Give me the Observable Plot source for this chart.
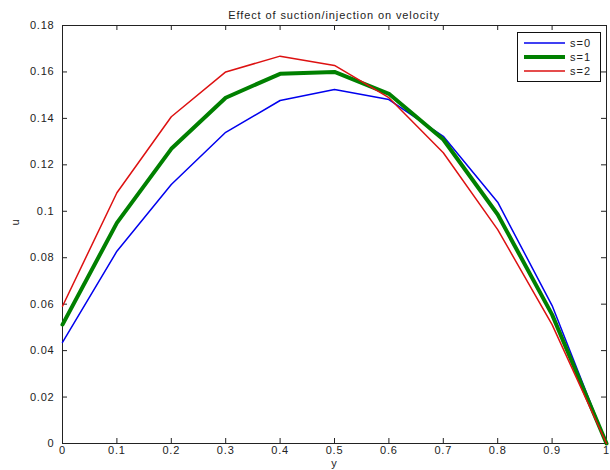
<!DOCTYPE html>
<html>
<head>
<meta charset="utf-8">
<script src="https://cdn.jsdelivr.net/npm/d3@7"></script>
<script src="https://cdn.jsdelivr.net/npm/@observablehq/plot@0.6"></script>
<style>
  body { margin: 0; background: #fff; font-family: "Liberation Sans", Arial, sans-serif; }
  #wrap { position: relative; width: 610px; height: 470px; overflow: hidden; }
  #title { position: absolute; top: 8px; left: 62px; width: 544px; text-align: center; font-size: 11px; line-height: 14px; letter-spacing: 0.9px; color: #222; }
  #legend { position: absolute; left: 517px; top: 32px; width: 84px; height: 50px; box-sizing: border-box; border: 1px solid #111; background: #fff; font-size: 11px; letter-spacing: 1px; color: #222; }
  .row { position: absolute; left: 0; height: 14px; display: flex; align-items: center; }
  .row svg { margin-left: 6px; margin-right: 5px; }
</style>
</head>
<body>
<div id="wrap">
  <div id="chart"></div>
  <div id="title">Effect of suction/injection on velocity</div>
  <div id="legend"></div>
</div>
<script>
const yVals = [0, 0.1, 0.2, 0.3, 0.4, 0.5, 0.6, 0.7, 0.8, 0.9, 1];
const s0 = [0.0435, 0.0828, 0.1115, 0.134, 0.1477, 0.1524, 0.1481, 0.1323, 0.1039, 0.0594, 0];
const s1 = [0.0512, 0.095, 0.1269, 0.1489, 0.1592, 0.160, 0.1506, 0.1309, 0.0986, 0.0555, 0];
const s2 = [0.0591, 0.108, 0.1407, 0.160, 0.1668, 0.1628, 0.1489, 0.1252, 0.0921, 0.0512, 0];
const seriesNames = ["s=0", "s=1", "s=2"];
const seriesColors = ["#0000ee", "#008000", "#dd1111"];
const seriesWidths = [1.5, 4, 1.5];
const xTicks = [0, 0.1, 0.2, 0.3, 0.4, 0.5, 0.6, 0.7, 0.8, 0.9, 1];
const yTicks = [0, 0.02, 0.04, 0.06, 0.08, 0.1, 0.12, 0.14, 0.16, 0.18];

const allSeries = [s0, s1, s2];
const table = (vals) => yVals.map((y, i) => ({y, u: vals[i]}));

const W = 610, H = 470, mT = 25, mB = 27, mL = 62, mR = 4;
const plotH = H - mT - mB, plotW = W - mL - mR;
const tickLen = 5;
const axisColor = "#222";

const chart = Plot.plot({
  width: W, height: H,
  marginTop: mT, marginBottom: mB, marginLeft: mL, marginRight: mR,
  x: {domain: [0, 1]},
  y: {domain: [0, 0.18]},
  style: {fontFamily: '"Liberation Sans", Arial, sans-serif', fontSize: "11px", color: axisColor, background: "#fff", letterSpacing: "0.8px"},
  marks: [
    Plot.frame({stroke: axisColor}),
    Plot.ruleX(xTicks, {x: d => d, insetTop: plotH - tickLen, stroke: axisColor}),
    Plot.ruleX(xTicks, {x: d => d, insetBottom: plotH - tickLen, stroke: axisColor}),
    Plot.ruleY(yTicks, {y: d => d, insetRight: plotW - tickLen, stroke: axisColor}),
    Plot.ruleY(yTicks, {y: d => d, insetLeft: plotW - tickLen, stroke: axisColor}),
    Plot.axisX(xTicks, {tickSize: 0, tickPadding: 3, tickFormat: d => String(d), label: null}),
    Plot.axisY(yTicks, {tickSize: 0, tickPadding: 8, tickFormat: d => String(d), label: null}),
    ...allSeries.map((vals, i) => Plot.line(table(vals), {x: "y", y: "u", stroke: seriesColors[i], strokeWidth: seriesWidths[i], strokeLinejoin: "miter"})),
    Plot.text(["y"], {frameAnchor: "bottom", dy: 23, text: d => d, fontSize: 11}),
    Plot.text(["u"], {frameAnchor: "left", dx: -47, dy: -9, rotate: -90, text: d => d, fontSize: 11})
  ]
});
document.getElementById("chart").appendChild(chart);

const legend = document.getElementById("legend");
seriesNames.forEach((name, i) => {
  const row = document.createElement("div");
  row.className = "row";
  row.style.top = (3 + i * 14) + "px";
  row.innerHTML = `<svg width="41" height="6"><line x1="0" x2="41" y1="3" y2="3" stroke="${seriesColors[i]}" stroke-width="${seriesWidths[i]}"/></svg><span>${name}</span>`;
  legend.appendChild(row);
});
</script>
</body>
</html>
